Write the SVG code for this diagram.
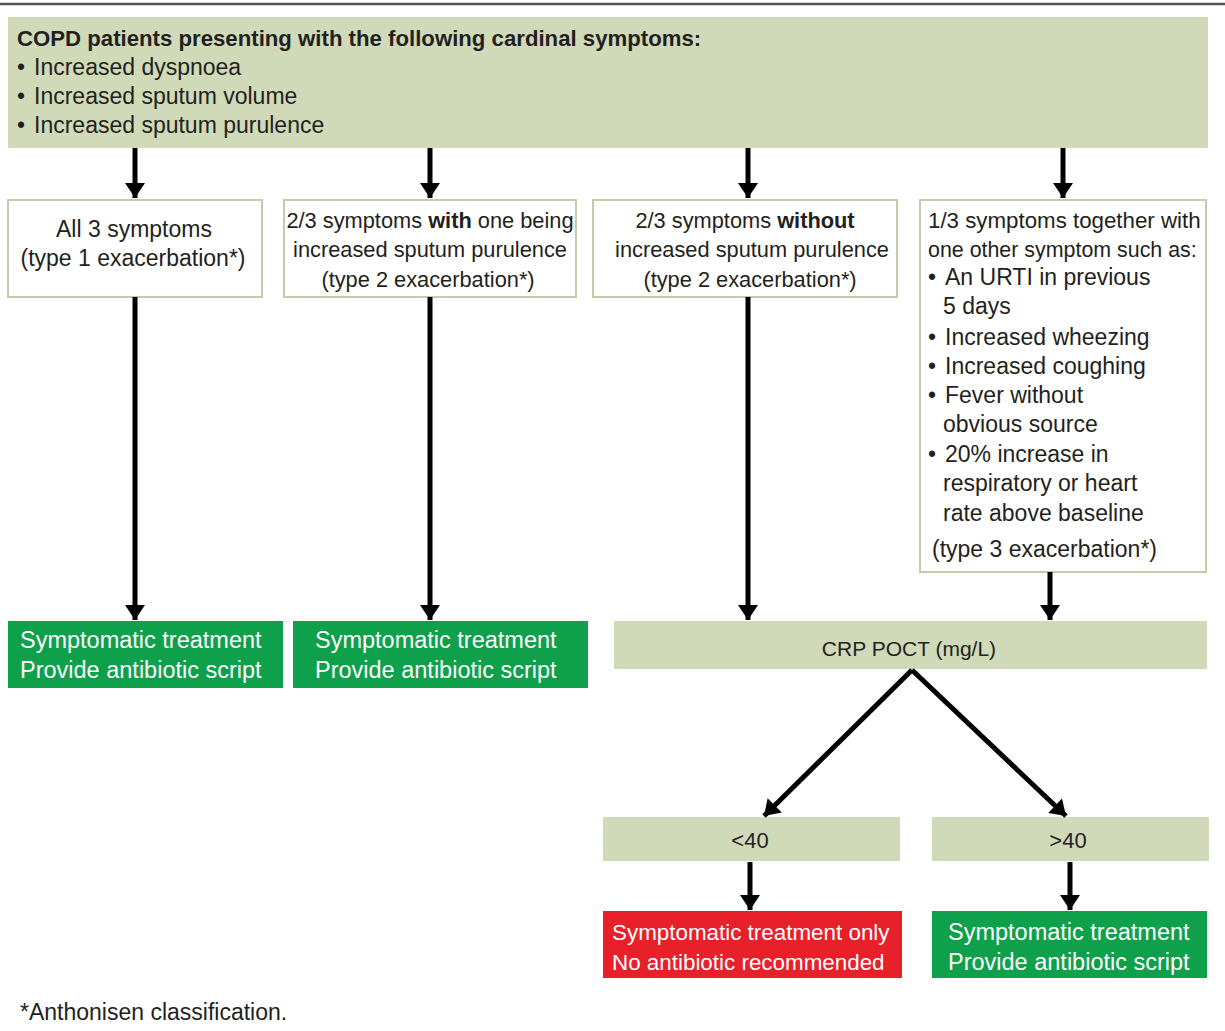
<svg xmlns="http://www.w3.org/2000/svg" width="1225" height="1031" viewBox="0 0 1225 1031">
<defs>
<marker id="ah" markerUnits="userSpaceOnUse" markerWidth="26" markerHeight="20" refX="18" refY="12" orient="auto" viewBox="0 0 18 24">
<path d="M0,0 L18,12 L0,24 Z" fill="#000"/>
</marker>
</defs>
<style>
text{font-family:"Liberation Sans",Arial,sans-serif;fill:#231f20;font-size:23px}
.sage{fill:#d0dab9}
.wbox{fill:#fff;stroke:#c3cca9;stroke-width:2}
.green{fill:#0ea04b}
.red{fill:#e8202a}
.wt{fill:#fff;font-size:23.5px}
.wr{fill:#fff;font-size:22.4px}
.c{text-anchor:middle}
.cond{font-size:21.8px}
.cond2{font-size:22.3px}
.cond3{font-size:21.4px}
.title{font-size:22.2px;font-weight:bold}
.sm{font-size:21px}
.md{font-size:22px}
.conn line{stroke:#000;stroke-width:5;marker-end:url(#ah)}
</style>
<rect width="1225" height="1031" fill="#fff"/>
<line x1="0" y1="4" x2="1225" y2="4" stroke="#555" stroke-width="2.5"/>

<g id="top">
<rect class="sage" x="8" y="17" width="1200" height="131"/>
<text class="title" x="17" y="46">COPD patients presenting with the following cardinal symptoms:</text>
<text x="17" y="75">•</text><text x="34" y="75">Increased dyspnoea</text>
<text x="17" y="104">•</text><text x="34" y="104">Increased sputum volume</text>
<text x="17" y="133">•</text><text x="34" y="133">Increased sputum purulence</text>
</g>

<g id="type1">
<rect class="wbox" x="8" y="200" width="254" height="97"/>
<text class="c" x="134" y="237">All 3 symptoms</text>
<text class="c" x="133" y="266">(type 1 exacerbation*)</text>
</g>

<g id="type2a">
<rect class="wbox" x="284" y="200" width="292" height="97"/>
<text class="c cond" x="430" y="228">2/3 symptoms <tspan font-weight="bold">with</tspan> one being</text>
<text class="c cond" x="430" y="257">increased sputum purulence</text>
<text class="c cond" x="428" y="287">(type 2 exacerbation*)</text>
</g>

<g id="type2b">
<rect class="wbox" x="593" y="200" width="304" height="97"/>
<text class="c cond" x="745" y="228">2/3 symptoms <tspan font-weight="bold">without</tspan></text>
<text class="c cond" x="752" y="257">increased sputum purulence</text>
<text class="c cond" x="750" y="287">(type 2 exacerbation*)</text>
</g>

<g id="type3">
<rect class="wbox" x="920" y="200" width="286" height="372"/>
<text class="cond2" x="928" y="228">1/3 symptoms together with</text>
<text class="cond3" x="928" y="257">one other symptom such as:</text>
<text x="928" y="285">•</text><text x="945" y="285">An URTI in previous</text>
<text x="943" y="314">5 days</text>
<text x="928" y="345">•</text><text x="945" y="345">Increased wheezing</text>
<text x="928" y="374">•</text><text x="945" y="374">Increased coughing</text>
<text x="928" y="403">•</text><text x="945" y="403">Fever without</text>
<text x="943" y="432">obvious source</text>
<text x="928" y="462">•</text><text x="945" y="462">20% increase in</text>
<text x="943" y="491">respiratory or heart</text>
<text x="943" y="521">rate above baseline</text>
<text x="932" y="557">(type 3 exacerbation*)</text>
</g>

<g id="treat1">
<rect class="green" x="8" y="621" width="275" height="67"/>
<text class="wt" x="20" y="648">Symptomatic treatment</text>
<text class="wt" x="20" y="678">Provide antibiotic script</text>
</g>

<g id="treat2">
<rect class="green" x="293" y="621" width="295" height="67"/>
<text class="wt" x="315" y="648">Symptomatic treatment</text>
<text class="wt" x="315" y="678">Provide antibiotic script</text>
</g>

<g id="crp">
<rect class="sage" x="614" y="621" width="593" height="48"/>
<text class="c sm" x="909" y="656">CRP POCT (mg/L)</text>
</g>

<g id="lt40">
<rect class="sage" x="603" y="817" width="297" height="44"/>
<text class="c md" x="750" y="848">&lt;40</text>
</g>

<g id="gt40">
<rect class="sage" x="932" y="817" width="277" height="44"/>
<text class="c md" x="1068" y="848">&gt;40</text>
</g>

<g id="noabx">
<rect class="red" x="603" y="911" width="299" height="67"/>
<text class="wr" x="612" y="940">Symptomatic treatment only</text>
<text class="wr" x="612" y="970">No antibiotic recommended</text>
</g>

<g id="treat3">
<rect class="green" x="932" y="911" width="275" height="67"/>
<text class="wt" x="948" y="940">Symptomatic treatment</text>
<text class="wt" x="948" y="970">Provide antibiotic script</text>
</g>

<g class="conn" id="connectors">
<line x1="135" y1="148" x2="135" y2="198"/>
<line x1="430" y1="148" x2="430" y2="198"/>
<line x1="748" y1="148" x2="748" y2="198"/>
<line x1="1063" y1="148" x2="1063" y2="198"/>
<line x1="135" y1="297" x2="135" y2="620"/>
<line x1="430" y1="297" x2="430" y2="620"/>
<line x1="748" y1="297" x2="748" y2="620"/>
<line x1="1050" y1="572" x2="1050" y2="620"/>
<line x1="912" y1="670" x2="764" y2="816"/>
<line x1="912" y1="670" x2="1066" y2="816"/>
<line x1="750" y1="862" x2="750" y2="910"/>
<line x1="1070" y1="862" x2="1070" y2="910"/>
</g>

<text x="20" y="1020">*Anthonisen classification.</text>
</svg>
